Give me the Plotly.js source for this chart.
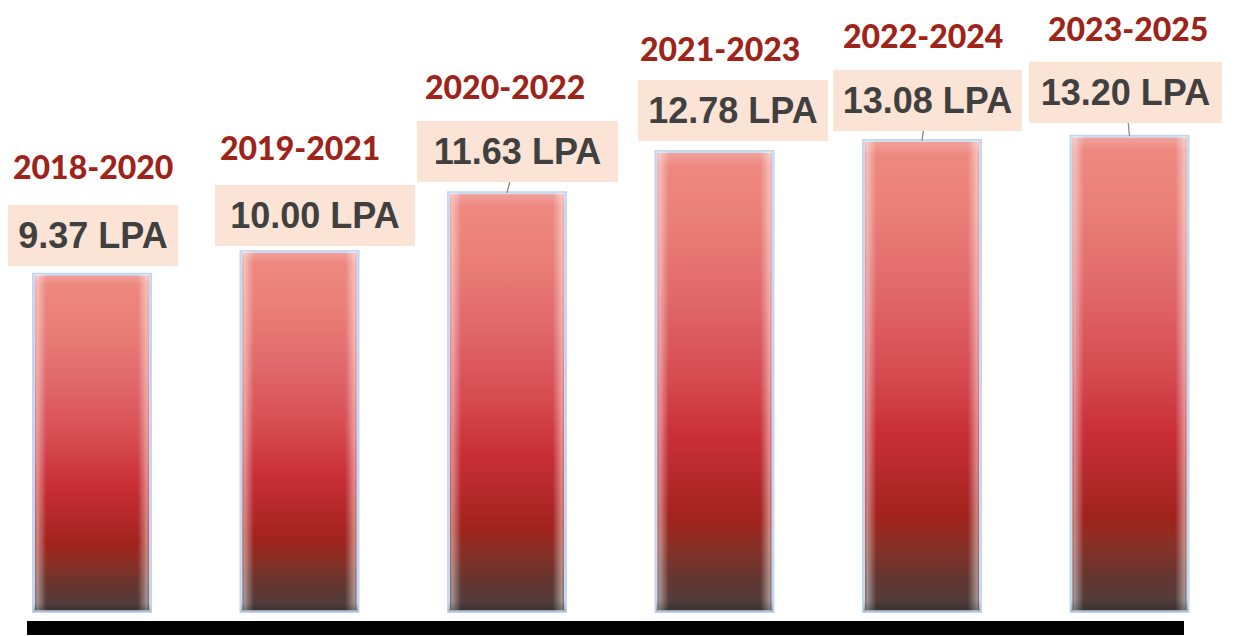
<!DOCTYPE html>
<html>
<head>
<meta charset="utf-8">
<script src="https://cdn.plot.ly/plotly-3.0.1.min.js"></script>
<style>
  html, body { margin: 0; padding: 0; background: #ffffff; }
  #chart { width: 1243px; height: 636px; }
</style>
</head>
<body>
<div id="chart"></div>
<script>
// ---- data ----
const batches = ["2018-2020", "2019-2021", "2020-2022", "2021-2023", "2022-2024", "2023-2025"];
const avgPackage = [9.37, 10.00, 11.63, 12.78, 13.08, 13.20];
const valueLabels = ["9.37 LPA", "10.00 LPA", "11.63 LPA", "12.78 LPA", "13.08 LPA", "13.20 LPA"];

// ---- label placement (pixel offsets from bar tops, box sizes) ----
const boxPlace = [
  {dx: 1,    dy: -38.7, w: 170, leader: false},
  {dx: 15.5, dy: -36,   w: 200, leader: false},
  {dx: 10.5, dy: -41.3, w: 201, leader: true},
  {dx: 18.5, dy: -40.9, w: 190, leader: false},
  {dx: 5.5,  dy: -40.1, w: 189, leader: true},
  {dx: -4,   dy: -43.8, w: 193, leader: true}
];
const catPlace = [
  {dx: 1, dy: -107.2}, {dx: 0.5, dy: -104}, {dx: -2, dy: -106.8},
  {dx: 5.5, dy: -102.9}, {dx: 1, dy: -105.6}, {dx: -1.5, dy: -108.3}
];

const trace = {
  type: "bar",
  x: batches,
  y: avgPackage,
  marker: {
    color: "#d9454a",
    line: {color: "#c4d5f0", width: 3}
  },
  hoverinfo: "skip"
};

const annotations = [];
batches.forEach((b, i) => {
  const p = boxPlace[i];
  const valAnn = {
    x: b, y: avgPackage[i], xref: "x", yref: "y",
    text: "<b>" + valueLabels[i] + "</b>",
    font: {family: "Liberation Sans, Arial, sans-serif", size: 36, color: "#404040"},
    bgcolor: "#fbe4d6",
    borderwidth: 0, borderpad: 0,
    width: p.w, height: 61,
    align: "center", valign: "middle"
  };
  if (p.leader) {
    Object.assign(valAnn, {
      showarrow: true, ax: p.dx, ay: p.dy, axref: "pixel", ayref: "pixel",
      arrowhead: 0, arrowwidth: 1.3, arrowcolor: "#8a8a8a", standoff: 0, startstandoff: 0
    });
  } else {
    Object.assign(valAnn, {
      showarrow: false, xanchor: "center", yanchor: "middle",
      xshift: p.dx, yshift: -p.dy
    });
  }
  annotations.push(valAnn);

  const c = catPlace[i];
  annotations.push({
    x: b, y: avgPackage[i], xref: "x", yref: "y",
    text: b,
    font: {family: "Lato, Carlito, Calibri, sans-serif", size: 32, color: "#9e2318", weight: 900},
    showarrow: false, xanchor: "center", yanchor: "middle",
    xshift: c.dx, yshift: -c.dy
  });
});

const layout = {
  width: 1243, height: 636,
  margin: {l: 0, r: 0, t: 0, b: 0, pad: 0},
  paper_bgcolor: "#ffffff", plot_bgcolor: "#ffffff",
  showlegend: false,
  bargap: 0.436,
  xaxis: {
    type: "category",
    range: [-0.4434, 5.5470],
    showgrid: false, zeroline: false, showline: false, showticklabels: false, ticks: ""
  },
  yaxis: {
    range: [-0.6806, 16.986],
    showgrid: false, zeroline: false, showline: false, showticklabels: false, ticks: ""
  },
  shapes: [{
    type: "rect", xref: "paper", yref: "paper",
    x0: 27 / 1243, x1: 1184 / 1243,
    y0: 1 - 635 / 636, y1: 1 - 621 / 636,
    fillcolor: "#000000", line: {width: 0}, layer: "above"
  }],
  annotations: annotations
};

Plotly.newPlot("chart", [trace], layout, {staticPlot: true, displayModeBar: false}).then(gd => {
  const svgNS = "http://www.w3.org/2000/svg";
  const svg = gd.querySelector(".main-svg");
  let defs = svg.querySelector("defs");
  if (!defs) { defs = document.createElementNS(svgNS, "defs"); svg.insertBefore(defs, svg.firstChild); }

  function grad(id, horizontal, stops) {
    const g = document.createElementNS(svgNS, "linearGradient");
    g.setAttribute("id", id);
    g.setAttribute("x1", "0"); g.setAttribute("y1", "0");
    g.setAttribute("x2", horizontal ? "1" : "0"); g.setAttribute("y2", horizontal ? "0" : "1");
    stops.forEach(s => {
      const st = document.createElementNS(svgNS, "stop");
      st.setAttribute("offset", s[0]);
      st.setAttribute("stop-color", s[1]);
      st.setAttribute("stop-opacity", s[2] === undefined ? 1 : s[2]);
      g.appendChild(st);
    });
    defs.appendChild(g);
  }
  grad("barFill", false, [
    ["0", "#ee8b82"], ["0.15", "#ea8078"], ["0.32", "#e1686a"], ["0.5", "#d54a4f"],
    ["0.62", "#c92f37"], ["0.72", "#b4282a"], ["0.8", "#a1231c"], ["0.86", "#873026"],
    ["0.92", "#68352f"], ["1", "#4a4040"]
  ]);
  grad("barSides", true, [
    ["0", "#ffffff", 0.05], ["0.03", "#ffffff", 0.45], ["0.07", "#ffffff", 0.22], ["0.11", "#ffffff", 0],
    ["0.89", "#ffffff", 0], ["0.93", "#ffffff", 0.22], ["0.97", "#ffffff", 0.45], ["1", "#ffffff", 0.05]
  ]);
  grad("barTop", false, [
    ["0", "#ffffff", 0.2], ["0.015", "#ffffff", 0.12], ["0.03", "#ffffff", 0],
    ["0.975", "#000000", 0], ["1", "#000000", 0.25]
  ]);

  gd.querySelectorAll(".barlayer .point path").forEach(path => {
    path.style.fill = "url(#barFill)";
    path.style.fillOpacity = 1;
    ["barSides", "barTop"].forEach(id => {
      const c = path.cloneNode(true);
      c.style.fill = "url(#" + id + ")";
      c.style.stroke = "none";
      c.style.strokeWidth = 0;
      path.parentNode.appendChild(c);
    });
  });
});
</script>
</body>
</html>
